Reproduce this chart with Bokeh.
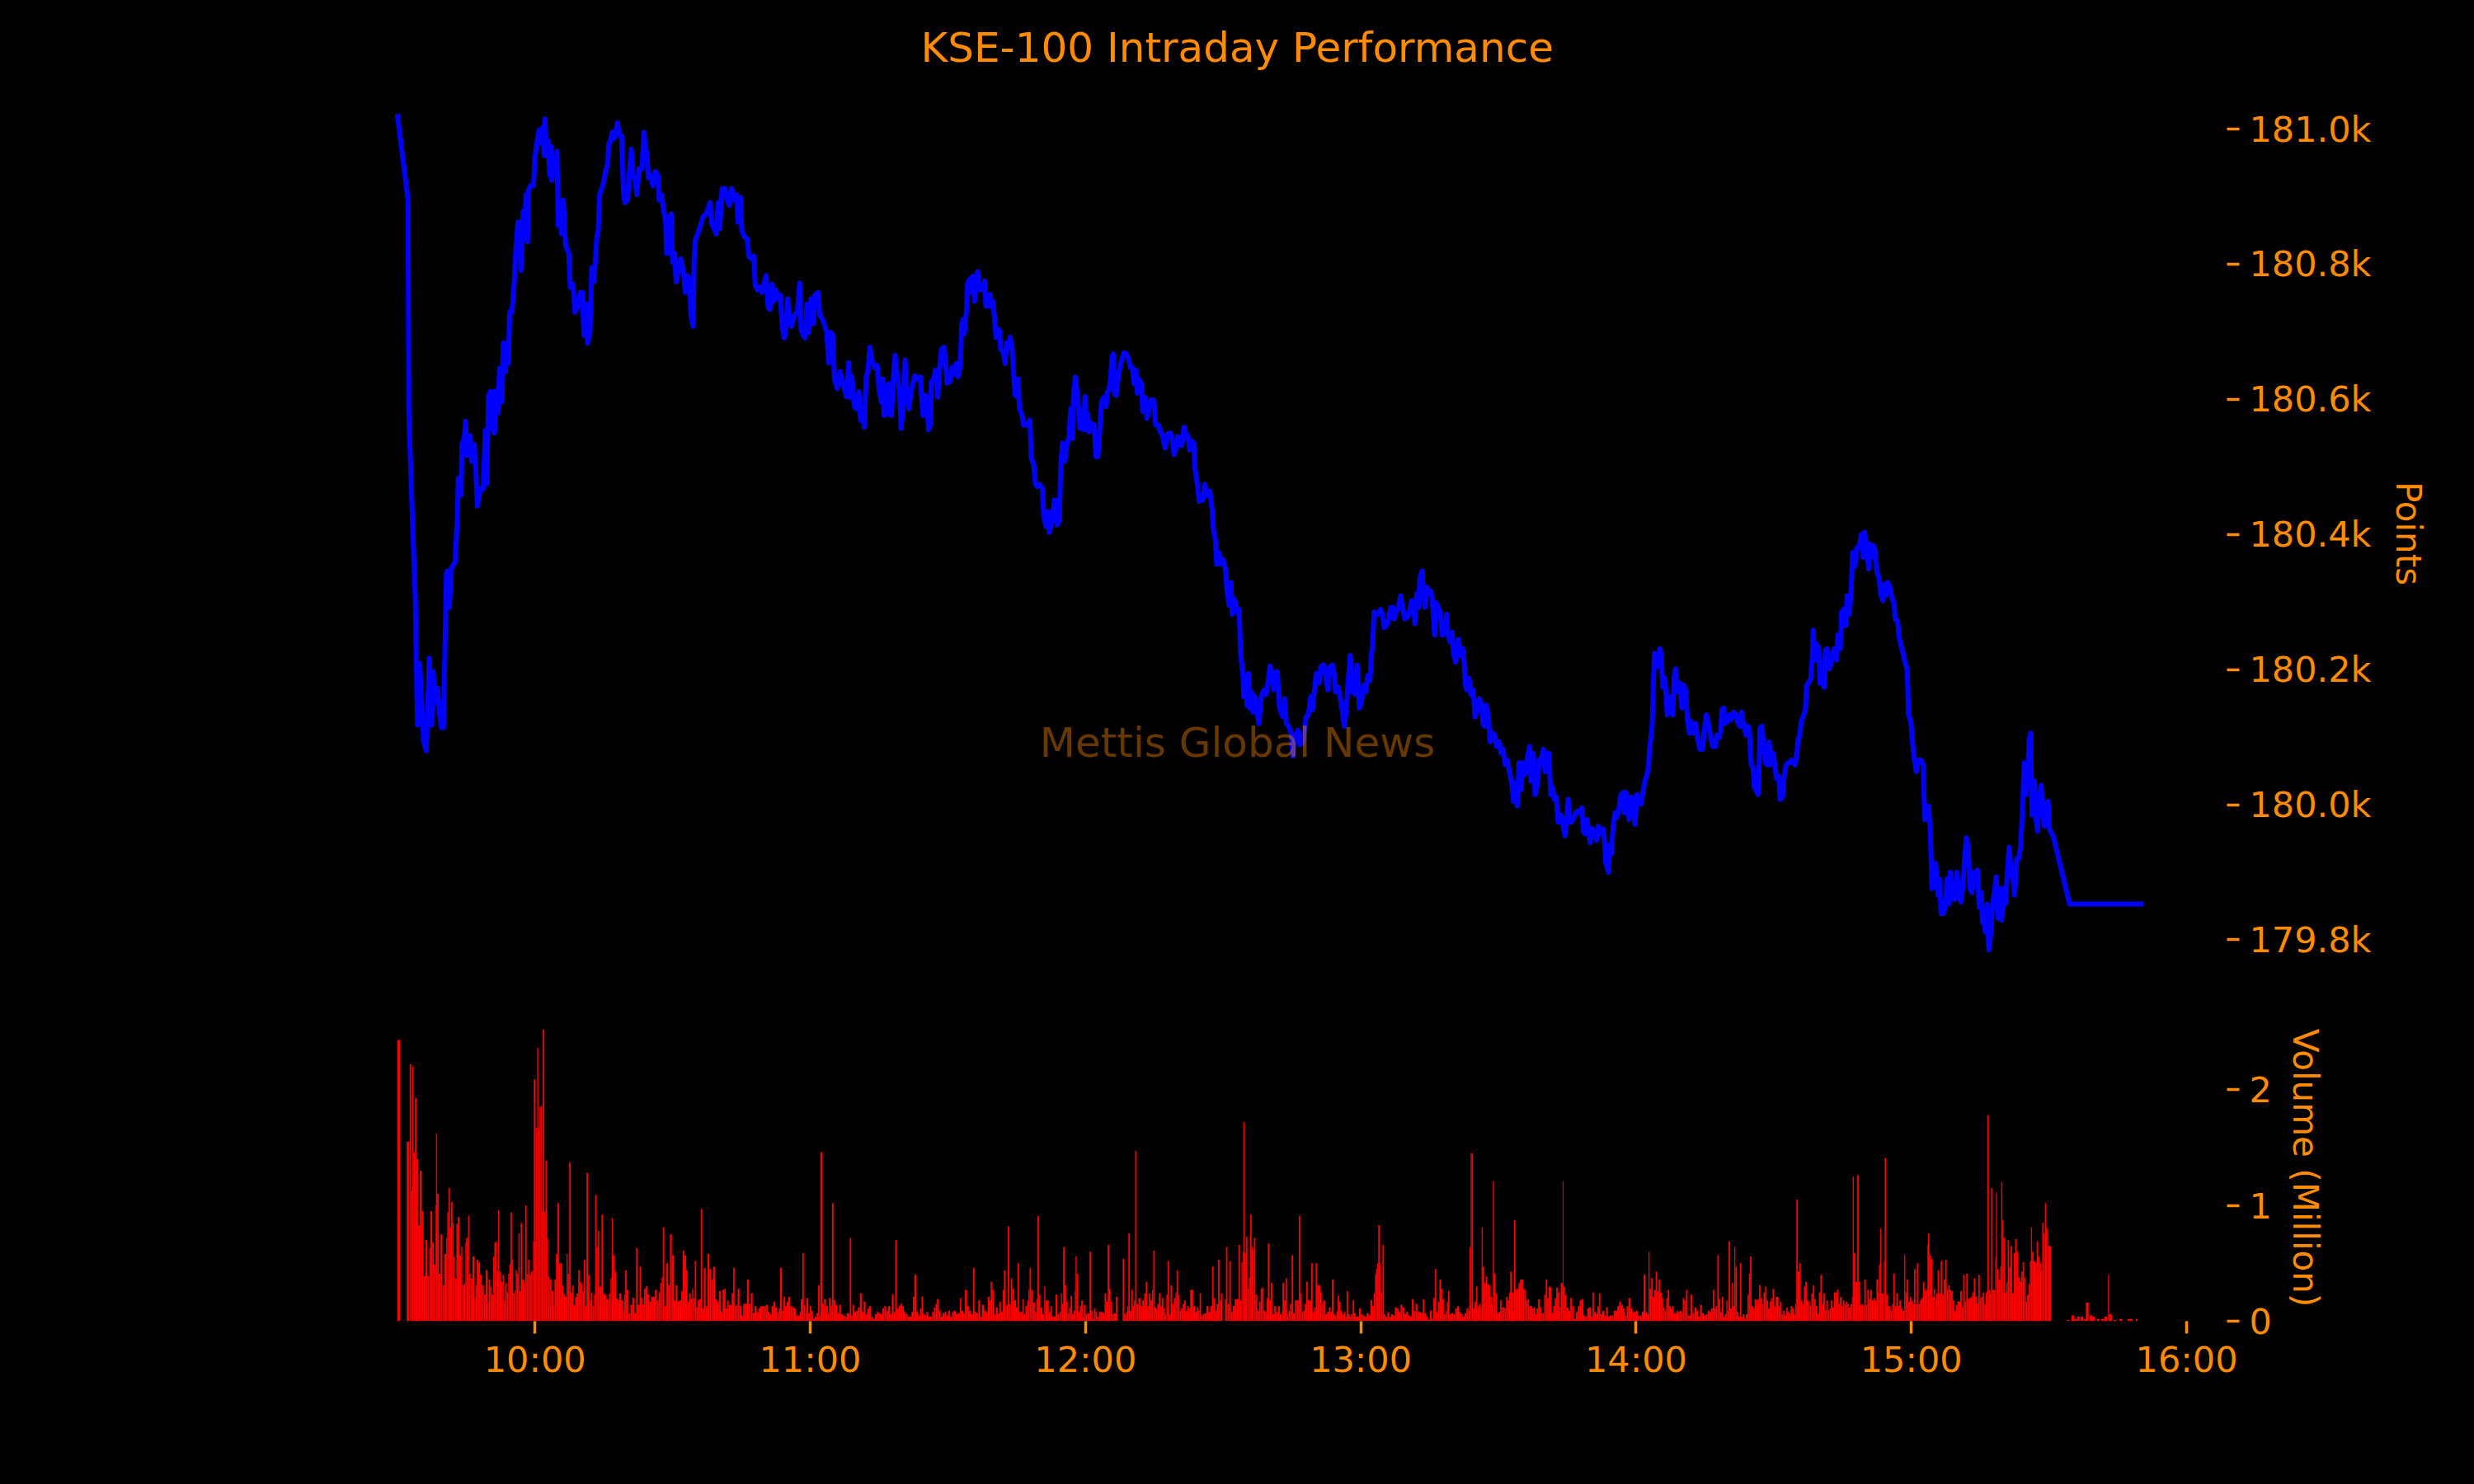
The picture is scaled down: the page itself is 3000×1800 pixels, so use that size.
import numpy as np
from bokeh.plotting import figure
from bokeh.layouts import column
from bokeh.models import Range1d, FixedTicker, Label
from bokeh.embed import file_html
from bokeh.resources import INLINE

# ---------------- data (minutes after the 09:30 open) ----------------
# KSE-100 index level, points
price_morning = [(0.0,181022),(2.35,180895),(2.5,180583),(3.2,180442),(3.95,180300),(4.08,180242),(4.4,180118),(4.9,180209),(5.24,180159),(5.75,180093),(6.33,180080),(6.97,180217),(7.49,180118),(7.81,180197),(8.26,180151),(8.77,180172),(9.22,180134),(9.6,180114),(10.06,180114),(10.38,180226),(10.7,180342),(11.0,180346),(11.35,180292),(11.8,180350),(12.6,180359),(13.1,180425),(13.3,180483),(13.9,180458),(14.1,180533),(14.6,180542),(14.9,180567),(15.2,180517),(15.8,180546),(16.2,180508),(16.8,180533),(17.1,180500),(17.45,180442),(18.1,180467),(18.7,180467),(19.2,180554),(19.5,180475),(19.9,180604),(20.3,180612),(20.7,180558),(21.2,180550),(21.4,180612),(21.9,180579),(22.3,180646),(22.8,180596),(23.1,180683),(23.6,180641),(23.9,180683),(24.2,180654),(24.5,180729),(25.0,180729),(25.5,180774),(25.8,180816),(26.3,180862),(26.6,180862),(26.96,180791),(27.4,180878),(27.7,180837),(28.05,180903),(28.4,180833),(28.5,180907),(29.0,180916),(29.7,180916),(30.0,180957),(30.4,180978),(30.95,180999),(31.5,180978),(31.8,181003),(32.0,180961),(32.2,181015),(32.55,180961),(32.9,180982),(33.2,180932),(33.5,180974),(33.7,180924),(34.0,180957),(34.5,180932),(34.8,180967),(35.1,180857),(35.4,180882),(35.8,180845),(36.2,180895),(36.5,180849),(36.7,180828),(37.4,180816),(37.7,180766),(38.3,180770),(38.7,180729),(39.3,180737),(39.9,180758),(40.3,180758),(40.7,180695),(41.1,180741),(41.5,180683),(42.0,180699),(42.4,180795),(42.8,180774),(43.2,180808),(43.5,180841),(43.8,180849),(44.1,180903),(44.8,180916),(45.4,180937),(45.9,180949),(46.05,180978),(46.5,180982),(46.8,180995),(47.3,180986),(48.0,181009),(48.4,180990),(48.9,180990),(49.3,180907),(49.6,180891),(50.2,180895),(50.55,180932),(51.0,180970),(51.4,180928),(51.8,180928),(52.2,180903),(52.7,180941),(53.3,180941),(53.8,180995),(54.1,180970),(54.4,180966),(54.7,180928),(55.2,180932),(55.7,180916),(56.3,180937),(56.8,180932),(57.1,180895),(57.6,180903),(58.1,180878),(58.5,180862),(58.7,180816),(59.1,180870),(59.4,180816),(59.7,180874),(60.0,180803),(60.4,180816),(60.8,180774),(61.2,180791),(61.8,180808),(62.3,180791),(62.8,180758),(63.2,180783),(63.7,180779),(64.0,180724),(64.5,180708),(64.7,180808),(65.0,180837),(65.7,180849),(66.3,180862),(66.6,180870),(67.3,180874),(67.7,180882),(68.2,180891),(68.5,180862),(69.0,180853),(69.5,180845),(69.95,180891),(70.3,180853),(70.8,180912),(71.4,180912),(71.9,180895),(72.4,180887),(72.9,180912),(73.4,180895),(73.9,180903),(74.3,180862),(74.8,180899),(75.1,180849),(75.6,180841),(76.3,180837),(76.6,180812),(77.2,180808),(77.7,180812),(78.0,180770),(78.5,180762),(79.0,180766),(79.5,180758),(79.9,180770),(80.4,180783),(80.8,180737),(81.2,180733),(81.7,180770),(82.0,180745),(82.5,180762),(83.0,180749),(83.5,180754),(83.9,180708),(84.3,180691),(84.6,180695),(85.1,180749),(85.4,180720),(85.9,180708),(86.5,180724),(87.2,180729),(87.7,180772),(88.0,180704),(88.5,180695),(88.9,180691),(89.3,180741),(89.7,180699),(90.2,180749),(90.7,180712),(91.0,180754),(91.7,180758),(92.1,180724),(92.6,180720),(93.2,180708),(93.6,180699),(94.05,180654),(94.4,180699),(94.9,180695),(95.3,180629),(95.9,180616),(96.5,180641),(97.1,180625),(97.9,180604),(98.4,180654)]

price_midday = [(98.65,180603),(99.1,180633),(99.6,180589),(100.2,180586),(100.6,180611),(101.0,180569),(101.4,180576),(101.8,180559),(102.2,180633),(102.6,180643),(103.0,180677),(103.5,180657),(104.0,180647),(104.6,180650),(105.0,180616),(105.5,180596),(105.8,180630),(106.1,180576),(106.6,180620),(106.9,180579),(107.2,180623),(107.7,180576),(108.1,180630),(108.5,180665),(109.0,180633),(109.5,180609),(109.8,180557),(110.2,180582),(110.7,180658),(111.1,180603),(111.5,180586),(112.0,180613),(112.8,180635),(113.2,180630),(114.0,180633),(114.3,180603),(114.6,180576),(115.1,180606),(115.5,180586),(115.8,180555),(116.2,180562),(116.4,180626),(116.9,180630),(117.3,180643),(117.8,180603),(118.1,180637),(118.6,180674),(119.2,180677),(119.6,180647),(119.8,180624),(120.4,180626),(120.9,180647),(121.3,180637),(121.8,180653),(122.2,180633),(122.7,180649),(123.0,180708),(123.3,180718),(123.6,180697),(124.1,180735),(124.3,180772),(124.8,180778),(125.2,180758),(125.4,180782),(125.8,180745),(126.2,180772),(126.5,180789),(126.9,180762),(127.5,180762),(128.0,180775),(128.3,180738),(128.8,180738),(129.2,180755),(129.5,180738),(129.8,180745),(130.2,180718),(130.5,180691),(130.9,180704),(131.3,180701),(131.5,180674),(132.1,180670),(132.5,180653),(132.8,180684),(133.3,180677),(133.6,180692),(134.0,180677),(134.4,180630),(134.7,180606),(135.3,180630),(135.6,180586),(136.2,180576),(136.5,180562),(137.3,180562),(137.9,180569),(138.2,180512),(138.7,180505),(139.1,180474),(139.5,180471),(140.0,180474),(140.6,180468),(140.9,180427),(141.4,180412),(141.7,180434),(142.1,180403),(142.75,180420),(143.2,180451),(143.5,180451),(143.8,180414),(144.3,180420),(144.6,180501),(145.0,180535),(145.5,180508),(145.9,180532),(146.4,180545),(146.8,180586),(147.2,180542),(147.4,180609),(147.8,180633),(148.2,180609),(148.5,180586),(148.8,180557),(149.3,180579),(149.6,180555),(149.9,180604),(150.2,180555),(150.5,180579),(150.8,180552),(151.3,180564),(151.9,180562),(152.3,180515),(152.7,180515),(153.1,180552),(153.5,180596),(154.0,180603),(154.5,180589),(154.7,180609),(155.2,180616),(155.5,180633),(155.8,180664),(156.1,180667),(156.3,180609),(156.7,180606),(157.2,180637),(157.5,180647),(157.9,180658),(158.4,180669),(158.9,180667),(159.4,180660),(159.8,180647),(160.2,180647),(160.6,180623),(161.0,180643),(161.3,180609),(161.6,180630),(162.2,180623),(162.5,180582),(163.0,180603),(163.4,180572),(163.7,180579),(164.2,180599),(164.6,180589),(164.9,180599),(165.3,180562),(165.9,180562),(166.3,180552),(166.7,180549),(167.1,180535),(167.4,180528),(167.9,180549),(168.5,180550),(168.9,180542),(169.3,180518),(169.8,180528),(170.1,180545),(170.6,180532),(171.0,180532),(171.5,180559),(171.9,180549),(172.4,180545),(172.7,180525),(173.2,180538),(173.6,180535),(173.9,180496),(174.4,180474),(174.8,180449),(175.2,180454),(175.6,180451),(176.0,180474),(176.5,180457),(177.1,180464),(177.6,180437),(177.9,180407),(178.3,180393),(178.6,180356),(179.1,180373),(179.6,180356),(180.0,180363),(180.5,180349),(180.8,180322),(181.3,180295),(181.7,180329),(182.0,180282),(182.3,180305),(182.7,180299),(183.1,180285),(183.5,180289),(183.8,180224),(184.3,180194),(184.5,180160),(184.9,180191),(185.2,180147),(185.5,180194),(185.8,180143),(186.2,180167),(186.5,180137),(186.9,180160),(187.5,180133),(187.8,180120),(188.1,180143),(188.4,180163),(189.0,180170),(189.4,180163),(189.9,180187),(190.2,180205),(190.6,180197),(191.0,180170),(191.4,180191),(191.8,180197),(192.3,180143)]

price_afternoon = [(193.0,180130),(193.4,180157),(193.8,180120),(194.3,180116),(194.8,180106),(195.2,180072),(195.8,180103),(196.3,180110),(196.8,180089),(197.4,180093),(198.1,180130),(198.6,180133),(199.1,180160),(199.5,180140),(199.9,180170),(200.3,180194),(200.9,180180),(201.3,180204),(201.9,180207),(202.4,180191),(202.8,180170),(203.3,180204),(203.8,180207),(204.2,180194),(204.5,180167),(205.0,180174),(205.4,180163),(205.9,180143),(206.4,180116),(206.8,180137),(207.2,180177),(207.7,180221),(208.2,180167),(208.4,180187),(208.8,180163),(209.2,180207),(209.7,180143),(210.1,180150),(210.6,180177),(211.1,180167),(211.5,180191),(212.0,180184),(212.3,180221),(212.6,180238),(212.9,180285),(213.3,180282),(213.8,180282),(214.3,180289),(214.7,180282),(215.1,180262),(215.6,180265),(216.1,180275),(216.5,180292),(217.0,180292),(217.3,180275),(217.7,180285),(218.2,180292),(218.7,180309),(219.1,180292),(219.6,180275),(220.2,180278),(220.6,180285),(221.1,180302),(221.6,180289),(221.8,180268),(222.2,180312),(222.6,180292),(222.9,180336),(223.4,180346),(223.6,180312),(224.0,180292),(224.4,180322),(224.9,180312),(225.3,180316),(225.7,180292),(226.1,180251),(226.4,180299),(226.9,180292),(227.3,180285),(227.8,180251),(228.3,180255),(228.7,180282),(229.0,180251),(229.5,180241),(229.9,180255),(230.2,180224),(230.7,180211),(231.3,180245),(231.7,180221),(232.2,180231),(232.5,180214),(232.8,180177),(233.1,180170),(233.6,180187),(234.0,180163),(234.5,180170),(234.9,180130),(235.4,180143),(235.8,180157),(236.3,180150),(236.6,180120),(237.0,180116),(237.4,180147),(237.8,180130),(238.2,180093),(238.7,180106),(239.2,180103),(239.6,180086),(240.1,180093),(240.6,180076),(241.0,180082),(241.5,180059),(241.9,180066),(242.4,180049),(242.9,180032),(243.3,180005),(243.7,180032),(244.1,179998),(244.5,180062),(244.9,180022),(245.4,180062),(245.9,180045),(246.3,180069),(246.8,180086),(247.1,180035),(247.6,180076),(248.0,180015),(248.5,180029),(248.9,180066),(249.4,180069),(249.8,180082),(250.2,180049),(250.6,180076),(251.0,180076),(251.4,180015),(251.8,180025),(252.2,180008),(252.6,180011),(253.0,179974),(253.5,179985),(253.8,179981),(254.2,179964),(254.5,179954),(254.9,179981),(255.2,180008),(255.5,179974),(255.9,179974),(256.4,179981),(256.9,179988),(257.3,179991),(257.7,179988),(258.2,179995),(258.5,179961),(258.9,179957),(259.3,179978),(259.7,179961),(260.0,179944),(260.5,179964),(260.9,179961),(261.4,179947),(261.8,179968),(262.3,179957),(262.8,179964),(263.1,179947),(263.4,179914),(263.7,179907),(264.0,179900),(264.3,179941),(264.6,179927),(265.0,179968),(265.4,179988),(265.8,179981),(266.2,179991),(266.7,180015),(267.2,180018),(267.4,179988),(267.8,180018),(268.2,179998),(268.5,179978),(269.0,180011),(269.5,179985),(269.8,179971),(270.2,180015),(270.7,180011),(271.1,180001),(271.5,180018),(271.9,180035),(272.3,180042),(272.7,180055),(272.9,180079),(273.3,180103),(273.5,180116),(273.8,180184),(274.0,180224),(274.5,180221),(274.9,180204),(275.2,180231),(275.5,180221),(275.8,180174),(276.3,180187),(276.8,180133),(277.2,180143),(277.5,180160),(278.0,180133),(278.3,180187),(278.6,180201),(279.0,180167),(279.5,180180),(280.0,180143),(280.4,180177),(280.8,180170),(281.2,180126),(281.6,180106),(282.0,180123),(282.5,180106),(283.0,180120),(283.4,180099),(283.9,180082),(284.5,180082),(284.8,180106),(285.3,180133),(285.7,180123),(286.2,180103),(286.7,180086)]

price_close = [(287.3,180086),(287.6,180103),(288.1,180099),(288.5,180110),(288.7,180140),(289.1,180143),(289.4,180120),(289.9,180123),(290.3,180133),(290.7,180126),(291.2,180137),(291.7,180133),(292.1,180123),(292.6,180116),(293.0,180137),(293.5,180116),(294.0,180103),(294.4,180116),(294.7,180110),(295.1,180059),(295.5,180055),(295.8,180025),(296.1,180022),(296.6,180015),(296.8,180049),(297.0,180113),(297.4,180116),(297.8,180089),(298.2,180062),(298.6,180059),(299.0,180093),(299.4,180059),(299.9,180076),(300.2,180062),(300.6,180039),(301.1,180042),(301.4,180008),(301.9,180011),(302.3,180042),(302.7,180059),(303.1,180062),(303.5,180062),(303.9,180066),(304.3,180062),(304.7,180059),(305.1,180079),(305.3,180096),(305.7,180103),(306.0,180123),(306.4,180130),(306.9,180140),(307.2,180177),(307.6,180180),(308.1,180187),(308.4,180218),(308.6,180258),(309.0,180214),(309.3,180238),(309.8,180231),(310.1,180180),(310.6,180180),(311.0,180174),(311.3,180228),(311.6,180231),(312.0,180201),(312.4,180207),(312.8,180224),(313.2,180231),(313.7,180214),(314.0,180251),(314.5,180231),(314.8,180285),(315.2,180289),(315.7,180265),(316.0,180309),(316.5,180282),(316.9,180319),(317.2,180373),(317.7,180353),(318.1,180380),(318.6,180380),(319.1,180400),(319.5,180366),(319.8,180403),(320.3,180376),(320.7,180349),(321.0,180386),(321.3,180366),(321.8,180383),(322.2,180373),(322.5,180343),(323.0,180336),(323.3,180312),(323.8,180302),(324.1,180326),(324.4,180309),(324.8,180329),(325.3,180322),(325.8,180305),(326.2,180299),(326.5,180275),(327.0,180272),(327.4,180245),(327.8,180235),(328.2,180224),(328.6,180211),(329.1,180201),(329.4,180133),(329.9,180123),(330.2,180096),(330.6,180069),(331.1,180049),(331.5,180066),(332.1,180066),(332.6,180059),(332.9,179978),(333.3,179978),(333.7,179998),(334.1,179967),(334.5,179876),(335.0,179880),(335.3,179913),(335.8,179866),(336.1,179890),(336.5,179839),(337.0,179839),(337.3,179846),(337.8,179890),(338.2,179853),(338.5,179900),(339.0,179860),(339.4,179860),(339.9,179900),(340.4,179866),(340.8,179856),(341.2,179876),(341.6,179920),(342.0,179951),(342.4,179937),(342.8,179876),(343.2,179870),(343.7,179900),(344.1,179900),(344.4,179903),(344.8,179849),(345.2,179870),(345.5,179826),(345.8,179839),(346.1,179812),(346.5,179853),(346.9,179785),(347.3,179809),(347.7,179853),(348.1,179870),(348.5,179893),(348.9,179832),(349.3,179876),(349.7,179829),(350.1,179876),(350.5,179853),(350.8,179886),(351.3,179937),(351.7,179907),(352.2,179890),(352.5,179866),(353.0,179920),(353.4,179920),(353.8,179937),(354.2,179988),(354.6,180062),(355.0,180015),(355.4,180055),(355.7,180096),(356.0,180106),(356.3,179985),(356.8,180035),(357.2,179978),(357.5,179961),(357.8,180008),(358.3,180029),(358.6,179991),(359.0,179968),(359.5,180001),(359.8,180005),(360.1,179964),(360.6,179957),(360.9,179954),(364.5,179853),(380.6,179853)]

# traded volume, million shares
vol_morning = [(0.0,2.43),(2.05,1.55),(2.70,2.22),(3.03,1.13),(3.28,2.20),(3.52,1.46),(3.85,1.93),(4.18,1.40),(4.51,0.83),(4.92,1.30),(5.33,0.95),(5.74,0.39),(6.15,0.70),(6.56,0.39),(6.97,0.63),(7.21,0.95),(7.62,0.68),(7.95,0.49),(8.28,1.00),(8.44,1.62),(8.69,1.10),(9.02,0.41),(9.43,0.75),(9.84,0.31),(10.25,0.58),(10.66,0.72),(10.90,0.94),(11.15,1.15),(11.47,0.81),(11.72,1.03),(12.05,0.85),(12.30,0.56),(12.54,0.37),(12.87,0.84),(13.20,0.90),(13.52,0.57),(13.93,0.64),(14.18,0.31),(14.59,0.33),(14.84,0.68),(15.00,0.72),(15.41,0.91),(15.66,0.41),(15.98,0.37),(16.39,0.56),(16.80,0.20),(17.05,0.31),(17.29,0.53),(17.62,0.51),(18.03,0.40),(18.44,0.31),(18.85,0.23),(19.26,0.44),(19.67,0.15),(19.92,0.36),(20.25,0.30),(20.57,0.23),(20.90,0.56),(21.15,0.68),(21.47,0.69),(21.72,0.44),(21.97,0.96),(22.21,0.43),(22.54,0.34),(22.95,0.40),(23.20,0.18),(23.52,0.33),(23.85,0.25),(24.18,0.41),(24.43,0.49),(24.67,0.94),(25.00,0.53),(25.25,0.24),(25.66,0.27),(25.82,0.44),(26.07,0.41),(26.39,0.76),(26.64,0.26),(26.89,0.85),(27.21,0.36),(27.54,0.33),(27.87,1.00),(28.20,0.41),(28.52,0.53),(28.85,0.40),(29.18,0.43),(29.43,0.44),(29.59,0.69),(29.75,2.09),(30.08,0.69),(30.25,1.67),(30.49,2.36),(30.74,1.65),(30.98,1.85),(31.23,1.86),(31.48,0.95),(31.72,2.52),(32.05,0.95),(32.30,1.39),(32.62,0.72),(32.87,0.39),(33.20,0.36),(33.61,0.26),(34.02,0.13),(34.26,0.36),(34.59,0.58),(34.92,1.02),(35.25,0.50),(35.57,0.50),(35.90,0.31),(36.23,0.23),(36.56,0.21),(36.89,0.58),(37.13,0.41),(37.46,1.37),(37.79,0.25),(38.11,0.31),(38.44,0.14),(38.77,0.21),(39.10,0.24),(39.43,0.44),(39.75,0.34),(40.08,0.32),(40.41,0.26),(40.66,0.53),(40.98,0.13),(41.23,1.28),(41.56,0.40),(41.89,0.18),(42.21,0.25),(42.54,0.13),(42.87,0.23),(43.11,1.09),(43.44,0.64),(43.69,0.78),(44.02,0.30),(44.51,0.92),(44.84,0.24),(45.16,0.23),(45.49,0.19),(45.90,0.18),(46.15,0.24),(46.48,0.37),(46.72,0.89),(46.97,0.57),(47.38,0.43),(47.70,0.20),(48.03,0.18),(48.36,0.24),(48.77,0.18),(49.18,0.09),(49.43,0.23),(49.67,0.44),(50.00,0.27),(50.41,0.07),(50.82,0.14),(51.23,0.20),(51.64,0.07),(52.05,0.63),(52.38,0.14),(52.79,0.47),(53.11,0.20),(53.44,0.14),(53.77,0.28),(54.10,0.30),(54.51,0.23),(54.92,0.17),(55.33,0.21),(55.74,0.21),(56.15,0.27),(56.56,0.18),(56.97,0.25),(57.30,0.33),(57.62,0.38),(57.87,0.81),(58.20,0.13),(58.61,0.50),(59.02,0.31),(59.43,0.75),(59.84,0.57),(60.25,0.18),(60.66,0.31),(61.07,0.17),(61.48,0.18),(61.89,0.26),(62.21,0.61),(62.54,0.57),(62.95,0.44),(63.28,0.17),(63.61,0.24),(63.93,0.19),(64.26,0.28),(64.51,0.20),(64.84,0.52),(65.16,0.12),(65.49,0.18),(65.82,0.19),(66.15,0.97),(66.48,0.11),(66.80,0.46),(67.21,0.13),(67.62,0.58),(68.03,0.45),(68.44,0.36),(68.85,0.47),(69.26,0.19),(69.67,0.17),(70.08,0.26),(70.49,0.08),(70.90,0.27),(71.23,0.28),(71.56,0.11),(71.89,0.18),(72.21,0.14),(72.54,0.14),(72.87,0.24),(73.20,0.46),(73.52,0.13),(73.85,0.14),(74.18,0.28),(74.59,0.13),(75.00,0.05),(75.41,0.15),(75.82,0.15),(76.23,0.36),(76.64,0.15),(77.05,0.24),(77.46,0.07),(77.87,0.13),(78.28,0.08),(78.69,0.11),(79.10,0.13),(79.51,0.13),(79.92,0.13),(80.33,0.14),(80.74,0.08),(81.15,0.06),(81.56,0.13),(81.97,0.17),(82.38,0.12),(82.79,0.08),(83.20,0.11),(83.44,0.46),(83.85,0.09),(84.18,0.21),(84.51,0.13),(84.84,0.17),(85.25,0.21),(85.66,0.13),(86.07,0.12),(86.48,0.11),(86.89,0.05),(87.30,0.05),(87.70,0.08),(87.95,0.19),(88.28,0.59),(88.61,0.14),(88.93,0.07),(89.18,0.20),(89.59,0.07),(89.92,0.13),(90.25,0.09),(90.57,0.02),(90.98,0.04),(91.39,0.07),(91.72,0.31),(92.05,0.05),(92.21,1.46),(92.62,0.15),(93.03,0.19),(93.44,0.13),(93.85,0.07),(94.10,0.20),(94.51,0.13),(94.75,1.02),(95.08,0.18),(95.49,0.14),(95.90,0.07),(96.31,0.14),(96.72,0.06),(97.13,0.05),(97.54,0.04),(97.95,0.07),(98.36,0.06),(98.61,0.72),(98.93,0.05),(99.26,0.14),(99.59,0.08),(100.00,0.09),(100.41,0.12),(100.82,0.24),(101.23,0.08),(101.64,0.17),(102.05,0.06),(102.46,0.11),(102.87,0.13),(103.28,0.04),(103.69,0.02),(104.10,0.06),(104.51,0.08),(104.92,0.07),(105.33,0.06),(105.74,0.11),(106.15,0.13),(106.56,0.09),(106.97,0.13),(107.38,0.06),(107.79,0.23),(108.20,0.08),(108.52,0.70),(108.85,0.11),(109.26,0.13),(109.67,0.15),(110.08,0.13),(110.41,0.08),(110.82,0.06),(111.23,0.04),(111.64,0.04),(112.05,0.08),(112.38,0.21),(112.70,0.40),(113.11,0.08),(113.52,0.05),(113.93,0.11),(114.26,0.21),(114.59,0.06),(115.00,0.05),(115.33,0.08),(115.74,0.04),(116.15,0.04),(116.56,0.08),(116.97,0.12),(117.30,0.15),(117.62,0.19),(118.03,0.09),(118.44,0.04),(118.85,0.07),(119.26,0.08),(119.67,0.05),(120.08,0.09),(120.49,0.04),(120.90,0.08),(121.31,0.09),(121.72,0.06),(122.13,0.07),(122.62,0.20),(122.95,0.09),(123.36,0.07),(123.69,0.27),(124.18,0.13),(124.59,0.09),(125.00,0.06),(125.49,0.46),(125.82,0.08),(126.23,0.07)]

vol_midday = [(126.63,0.18),(127.04,0.04),(127.45,0.14),(127.87,0.09),(128.28,0.08),(128.69,0.21),(129.10,0.18),(129.34,0.34),(129.67,0.27),(130.08,0.06),(130.49,0.12),(130.91,0.07),(131.23,0.17),(131.56,0.08),(131.97,0.27),(132.22,0.44),(132.55,0.13),(132.80,0.14),(133.04,0.82),(133.37,0.15),(133.62,0.02),(133.78,0.37),(134.03,0.28),(134.44,0.18),(134.85,0.12),(135.18,0.50),(135.51,0.08),(135.84,0.08),(136.25,0.19),(136.49,0.06),(136.90,0.13),(137.31,0.18),(137.56,0.27),(137.81,0.46),(138.14,0.27),(138.55,0.16),(138.96,0.08),(139.29,0.19),(139.53,0.91),(139.86,0.23),(140.19,0.12),(140.60,0.06),(141.01,0.30),(141.26,0.18),(141.67,0.18),(142.00,0.08),(142.33,0.13),(142.66,0.04),(143.07,0.04),(143.48,0.23),(143.89,0.06),(144.30,0.08),(144.63,0.24),(144.87,0.15),(145.12,0.64),(145.45,0.31),(145.78,0.17),(146.11,0.07),(146.44,0.12),(146.76,0.22),(147.09,0.06),(147.42,0.09),(147.67,0.27),(147.83,0.56),(148.08,0.41),(148.41,0.08),(148.74,0.13),(149.06,0.18),(149.39,0.04),(149.64,0.14),(150.05,0.06),(150.46,0.07),(150.87,0.60),(151.20,0.09),(151.53,0.02),(151.86,0.11),(152.19,0.08),(152.52,0.04),(152.93,0.08),(153.34,0.08),(153.75,0.07),(154.16,0.24),(154.49,0.17),(154.82,0.66),(155.15,0.28),(155.47,0.17),(155.80,0.06),(156.21,0.07),(156.62,0.21),(156.95,0.0),(157.45,0.0),(158.10,0.54),(158.43,0.06),(158.84,0.08),(159.09,0.13),(159.34,0.76),(159.66,0.09),(159.99,0.27),(160.32,0.13),(160.57,0.18),(160.82,1.47),(161.14,0.15),(161.55,0.20),(161.97,0.13),(162.38,0.18),(162.79,0.24),(163.12,0.34),(163.44,0.13),(163.77,0.24),(164.10,0.18),(164.51,0.27),(164.76,0.61),(165.09,0.12),(165.42,0.11),(165.66,0.15),(165.99,0.24),(166.32,0.13),(166.65,0.20),(166.98,0.11),(167.31,0.06),(167.63,0.23),(167.88,0.52),(168.21,0.06),(168.54,0.31),(168.87,0.15),(169.28,0.20),(169.61,0.25),(169.85,0.44),(170.18,0.23),(170.51,0.09),(170.84,0.11),(171.17,0.15),(171.50,0.18),(171.83,0.09),(172.15,0.13),(172.48,0.11),(172.81,0.27),(173.14,0.27),(173.47,0.13),(173.88,0.08),(174.21,0.12),(174.54,0.09),(174.87,0.24),(175.19,0.05),(175.52,0.06),(175.93,0.07),(176.35,0.13),(176.76,0.08),(177.17,0.13),(177.58,0.47),(177.91,0.20),(178.23,0.09),(178.56,0.15),(178.89,0.53),(179.22,0.18),(179.55,0.24),(179.88,0.0),(180.37,0.19),(180.62,0.64),(180.95,0.15),(181.36,0.52),(181.69,0.08),(182.10,0.13),(182.51,0.19),(182.92,0.19),(183.33,0.66),(183.66,0.18),(183.99,0.51),(184.23,0.60),(184.40,1.72),(184.64,0.59),(184.97,0.73),(185.30,0.28),(185.63,0.38),(185.88,0.92),(186.21,0.64),(186.45,0.62),(186.70,0.72),(187.03,0.23),(187.44,0.09),(187.85,0.17),(188.18,0.28),(188.51,0.29),(188.83,0.09),(189.16,0.08),(189.49,0.20),(189.74,0.67),(190.07,0.18),(190.40,0.33),(190.73,0.06),(191.14,0.13),(191.55,0.08),(191.96,0.13),(192.37,0.06),(192.78,0.08),(192.94,0.33),(193.27,0.18),(193.60,0.37),(193.93,0.06),(194.26,0.09),(194.59,0.15),(194.92,0.57),(195.24,0.07),(195.66,0.18),(196.07,0.18),(196.48,0.91),(196.81,0.24),(197.13,0.08),(197.46,0.09),(197.79,0.15),(198.12,0.34),(198.45,0.18),(198.78,0.18),(199.19,0.50),(199.52,0.08),(199.85,0.12),(200.17,0.50),(200.50,0.31),(200.83,0.31),(201.16,0.25),(201.49,0.15),(201.82,0.18),(202.23,0.06),(202.64,0.08),(203.05,0.12),(203.38,0.08),(203.71,0.36),(204.04,0.06),(204.36,0.05),(204.69,0.08),(204.94,0.22),(205.27,0.17),(205.60,0.09),(205.93,0.06),(206.34,0.08),(206.67,0.04),(206.91,0.26),(207.24,0.06),(207.57,0.04),(207.90,0.06),(208.23,0.18),(208.56,0.07),(208.88,0.04),(209.21,0.04),(209.62,0.11),(210.04,0.06),(210.45,0.05),(210.86,0.04),(211.27,0.07),(211.68,0.05),(212.09,0.18),(212.50,0.13),(212.83,0.24),(213.07,0.40),(213.32,0.45),(213.57,0.50),(213.81,0.83),(214.14,0.49),(214.39,0.25),(214.72,0.66),(215.05,0.06),(215.38,0.04),(215.79,0.08),(216.20,0.04),(216.61,0.06),(217.02,0.05),(217.43,0.12),(217.84,0.11),(218.25,0.08),(218.66,0.14),(219.07,0.12),(219.48,0.06),(219.89,0.08),(220.31,0.05),(220.72,0.04),(221.13,0.19),(221.54,0.09),(221.95,0.15),(222.36,0.08),(222.77,0.08),(223.18,0.07),(223.51,0.19),(223.84,0.07),(224.25,0.04),(224.66,0.01),(225.07,0.09),(225.48,0.02),(225.81,0.20),(226.14,0.45),(226.47,0.08),(226.80,0.17),(227.13,0.36),(227.46,0.28),(227.78,0.19),(228.11,0.06),(228.44,0.09),(228.77,0.17),(229.02,0.26),(229.34,0.06),(229.76,0.07),(230.17,0.06),(230.58,0.11),(230.99,0.13),(231.40,0.08),(231.81,0.06),(232.22,0.04),(232.63,0.07),(233.04,0.11),(233.45,0.09),(233.70,0.64),(233.95,1.45),(234.19,1.45),(234.44,0.11),(234.77,0.17),(235.10,0.30),(235.42,0.13),(235.75,0.15),(236.08,0.11),(236.33,0.81),(236.57,0.47),(236.90,0.33),(237.23,0.39),(237.56,0.32),(237.89,0.31),(238.22,0.21),(238.55,0.14),(238.79,1.21),(239.04,0.41),(239.37,0.24),(239.70,0.07),(240.03,0.08),(240.36,0.18),(240.68,0.12),(241.01,0.12),(241.34,0.11),(241.67,0.21),(242.00,0.18),(242.33,0.25),(242.57,0.43),(242.90,0.25),(243.23,0.09),(243.40,0.87),(243.72,0.28),(244.05,0.28),(244.38,0.33),(244.71,0.36),(245.04,0.36),(245.37,0.28),(245.69,0.27),(246.02,0.18),(246.35,0.19),(246.68,0.13),(247.01,0.13),(247.34,0.11),(247.66,0.12),(247.99,0.06),(248.32,0.11),(248.65,0.19),(248.98,0.12),(249.31,0.07),(249.64,0.07),(249.97,0.23),(250.30,0.36),(250.62,0.20),(250.95,0.30),(251.28,0.29),(251.61,0.07),(251.94,0.13),(252.27,0.20),(252.60,0.29),(252.93,0.25),(253.26,0.12),(253.59,0.33),(254.00,1.21)]

vol_afternoon = [(254.18,0.30),(254.51,0.23),(254.84,0.12),(255.25,0.09),(255.66,0.20),(256.07,0.13),(256.48,0.02),(256.89,0.08),(257.30,0.13),(257.71,0.18),(258.12,0.19),(258.53,0.05),(258.94,0.04),(259.35,0.11),(259.76,0.12),(260.17,0.04),(260.50,0.25),(260.82,0.08),(261.23,0.06),(261.56,0.13),(261.89,0.24),(262.22,0.06),(262.63,0.09),(263.04,0.05),(263.45,0.12),(263.86,0.04),(264.27,0.05),(264.68,0.05),(265.09,0.09),(265.50,0.09),(265.90,0.13),(266.31,0.17),(266.72,0.14),(267.13,0.11),(267.54,0.05),(267.95,0.13),(268.36,0.20),(268.77,0.11),(269.18,0.08),(269.59,0.08),(270.00,0.09),(270.41,0.05),(270.82,0.05),(271.23,0.08),(271.64,0.40),(272.05,0.08),(272.38,0.06),(272.71,0.60),(272.95,0.28),(273.28,0.37),(273.61,0.21),(273.94,0.27),(274.27,0.43),(274.59,0.26),(274.92,0.36),(275.25,0.25),(275.58,0.20),(275.90,0.12),(276.23,0.09),(276.56,0.20),(276.89,0.27),(277.22,0.13),(277.54,0.11),(277.87,0.13),(278.20,0.07),(278.53,0.07),(278.86,0.09),(279.18,0.08),(279.51,0.09),(279.84,0.08),(280.17,0.20),(280.50,0.18),(280.90,0.27),(281.23,0.05),(281.56,0.05),(281.89,0.23),(282.30,0.07),(282.71,0.12),(283.12,0.09),(283.53,0.04),(283.94,0.14),(284.35,0.07),(284.76,0.05),(285.17,0.06),(285.58,0.09),(285.99,0.08),(286.40,0.11),(286.72,0.27),(287.05,0.11),(287.38,0.13),(287.71,0.57),(288.04,0.19),(288.36,0.08),(288.69,0.21),(289.02,0.04),(289.35,0.06),(289.68,0.18),(289.92,0.09),(290.17,0.69),(290.50,0.11),(290.82,0.33),(291.15,0.13),(291.40,0.64),(291.64,0.47),(291.97,0.08),(292.30,0.04),(292.63,0.50),(292.95,0.04),(293.28,0.06),(293.61,0.02),(293.94,0.06),(294.27,0.23),(294.59,0.41),(294.84,0.56),(295.17,0.13),(295.50,0.11),(295.82,0.19),(296.15,0.18),(296.48,0.19),(296.81,0.31),(297.13,0.20),(297.46,0.15),(297.79,0.25),(298.12,0.30),(298.45,0.18),(298.77,0.11),(299.10,0.17),(299.43,0.20),(299.76,0.28),(300.09,0.13),(300.41,0.21),(300.74,0.21),(301.07,0.13),(301.40,0.17),(301.72,0.06),(302.05,0.09),(302.38,0.05),(302.71,0.12),(303.04,0.08),(303.36,0.07),(303.69,0.13),(304.02,0.11),(304.35,0.06),(304.68,0.15),(304.92,1.05),(305.25,0.43),(305.58,0.50),(305.90,0.18),(306.23,0.15),(306.56,0.30),(306.89,0.34),(307.22,0.18),(307.54,0.17),(307.87,0.13),(308.20,0.24),(308.53,0.31),(308.86,0.19),(309.18,0.13),(309.51,0.06),(309.84,0.25),(310.17,0.40),(310.50,0.15),(310.82,0.24),(311.15,0.09),(311.48,0.18),(311.81,0.09),(312.14,0.11),(312.46,0.18),(312.79,0.12),(313.12,0.25),(313.45,0.25),(313.77,0.27),(314.10,0.15),(314.43,0.21),(314.76,0.13),(315.09,0.18),(315.41,0.15),(315.74,0.17),(316.07,0.15),(316.40,0.12),(316.73,0.15),(317.05,0.21),(317.22,1.25),(317.46,0.59),(317.79,0.34),(318.20,1.26),(318.53,0.34),(318.86,0.14),(319.18,0.15),(319.51,0.13),(319.76,0.36),(320.09,0.14),(320.41,0.27),(320.74,0.19),(321.07,0.27),(321.40,0.18),(321.73,0.20),(322.05,0.18),(322.38,0.36),(322.71,0.25),(322.95,0.49),(323.20,0.80),(323.45,0.24),(323.77,0.24),(324.02,0.52),(324.18,1.41),(324.51,0.23),(324.84,0.13),(325.17,0.13),(325.49,0.09),(325.82,0.15),(326.07,0.41),(326.40,0.13),(326.72,0.24),(327.05,0.13),(327.38,0.18),(327.71,0.11),(328.04,0.09),(328.45,0.57),(328.69,0.25),(329.02,0.36),(329.35,0.17),(329.68,0.21),(330.00,0.18),(330.33,0.15),(330.58,0.45),(330.90,0.15),(331.23,0.50),(331.56,0.15),(331.89,0.18),(332.22,0.20),(332.54,0.34),(332.87,0.27),(333.20,0.27),(333.45,0.66),(333.61,0.76),(333.94,0.57),(334.27,0.54),(334.59,0.21),(334.92,0.28),(335.17,0.18),(335.41,0.24),(335.74,0.44),(336.07,0.24),(336.40,0.52),(336.72,0.23),(337.05,0.36),(337.38,0.53),(337.71,0.27),(338.04,0.31),(338.36,0.27),(338.69,0.26),(339.02,0.18),(339.35,0.09),(339.68,0.14),(340.00,0.17),(340.33,0.17),(340.66,0.26),(340.99,0.12),(341.31,0.40),(341.64,0.17),(341.97,0.41),(342.30,0.19),(342.63,0.20),(342.95,0.21),(343.28,0.25),(343.61,0.37),(343.94,0.21),(344.27,0.15),(344.59,0.40),(344.92,0.20),(345.25,0.21),(345.58,0.25),(345.90,0.15),(346.23,0.25),(346.56,1.78),(346.89,0.27),(347.13,0.24),(347.38,1.15),(347.71,0.27),(348.03,0.27),(348.28,0.56),(348.45,1.11),(348.69,0.45),(349.02,0.36),(349.35,0.47),(349.59,1.20),(349.84,0.87),(350.09,0.72),(350.41,0.25),(350.74,0.34),(350.99,0.70),(351.31,0.47),(351.64,0.65),(351.97,0.24),(352.30,0.59),(352.63,0.71),(352.95,0.60),(353.28,0.38),(353.61,0.34),(353.94,0.43),(354.27,0.51),(354.59,0.38),(354.92,0.17),(355.25,0.23),(355.58,0.32),(355.82,0.52),(356.07,0.81),(356.31,0.60),(356.64,0.52),(356.97,0.51),(357.30,0.69),(357.62,0.56),(357.95,0.50),(358.28,0.44),(358.53,0.85),(358.85,0.76),(359.10,1.02),(359.35,0.81),(359.59,0.79),(359.84,0.65),(363.85,0.01),(364.92,0.05),(365.49,0.02),(366.15,0.04),(366.89,0.04),(367.54,0.02),(368.04,0.16),(368.86,0.05),(369.43,0.04),(370.41,0.02),(371.40,0.02),(372.05,0.04),(372.87,0.40),(373.11,0.06),(374.10,0.01),(375.33,0.02),(377.13,0.02),(377.62,0.02),(378.93,0.02)]

time_ticks = [30, 90, 150, 210, 270, 330, 390]
time_labels = ["10:00", "11:00", "12:00", "13:00", "14:00", "15:00", "16:00"]
price_ticks = [179800, 180000, 180200, 180400, 180600, 180800, 181000]
price_labels = ["179.8k", "180.0k", "180.2k", "180.4k", "180.6k", "180.8k", "181.0k"]
vol_ticks = [0, 1, 2]
vol_labels = ["0", "1", "2"]

TITLE = "KSE-100 Intraday Performance"
WATERMARK = "Mettis Global News"

# ---------------- styling ----------------
ORANGE = "#FF8C00"
FONT = "DejaVu Sans"
W = 2996
LEFT, RIGHT = 375, 296
BG = {"background-color": "#000000"}
COMMON = dict(output_backend="svg", toolbar_location=None, background_fill_color="black",
              border_fill_color="black", outline_line_color=None, styles=BG)

price = np.array(price_morning + price_midday + price_afternoon + price_close, dtype=float)
vol = np.array(vol_morning + vol_midday + vol_afternoon, dtype=float)
vt, vm = vol[:, 0], vol[:, 1]
bar_w = np.minimum(np.diff(vt, append=vt[-1] + 0.4), 0.6)

x_range = Range1d(-19.1, 398.8)


def style_y(ax, ticks, labels, label, label_standoff):
    ax.ticker = FixedTicker(ticks=ticks)
    ax.major_label_overrides = {t: s for t, s in zip(ticks, labels)}
    ax.axis_line_color = None
    ax.major_tick_line_color = ORANGE
    ax.major_tick_line_width = 3.5
    ax.major_tick_out = 15
    ax.major_tick_in = 0
    ax.minor_tick_line_color = None
    ax.major_label_text_color = ORANGE
    ax.major_label_text_font = FONT
    ax.major_label_text_font_size = "43px"
    ax.major_label_standoff = 12
    ax.axis_label = label
    ax.axis_label_text_color = ORANGE
    ax.axis_label_text_font = FONT
    ax.axis_label_text_font_size = "42px"
    ax.axis_label_text_font_style = "normal"
    ax.axis_label_standoff = label_standoff


# price panel (with the title above it)
p1 = figure(width=W, height=1205, x_range=x_range, y_range=Range1d(179720, 181083),
            y_axis_location="right", x_axis_location=None, title=TITLE,
            min_border_left=LEFT, min_border_right=RIGHT, min_border_top=88, min_border_bottom=0,
            **COMMON)
p1.grid.visible = False
p1.title.text_color = ORANGE
p1.title.text_font = FONT
p1.title.text_font_size = "50px"
p1.title.text_font_style = "normal"
p1.title.align = "left"
p1.title.offset = 741
p1.title.standoff = 4
p1.line(price[:, 0], price[:, 1], line_color="#0000FF", line_width=6, line_join="round")
style_y(p1.yaxis[0], price_ticks, price_labels, "Points", 17)
p1.add_layout(Label(x=1125, y=305, x_units="screen", y_units="screen", text=WATERMARK,
                    text_align="center", text_baseline="middle", text_font=FONT,
                    text_font_size="50px", text_color=ORANGE, text_alpha=0.4))

# volume panel
p2 = figure(width=W, height=591, x_range=x_range, y_range=Range1d(0, 2.65),
            y_axis_location="right",
            min_border_left=LEFT, min_border_right=RIGHT, min_border_top=25, min_border_bottom=194,
            **COMMON)
p2.grid.visible = False
p2.quad(left=vt, right=vt + bar_w, bottom=0, top=vm, fill_color="#FF0000", line_color=None)
style_y(p2.yaxis[0], vol_ticks, vol_labels, "Volume (Million)", 13)

xa = p2.xaxis[0]
xa.ticker = FixedTicker(ticks=time_ticks)
xa.major_label_overrides = {t: s for t, s in zip(time_ticks, time_labels)}
xa.axis_line_color = None
xa.major_tick_line_color = ORANGE
xa.major_tick_line_width = 3.5
xa.major_tick_out = 15
xa.major_tick_in = 0
xa.minor_tick_line_color = None
xa.major_label_text_color = ORANGE
xa.major_label_text_font = FONT
xa.major_label_text_font_size = "43px"
xa.major_label_standoff = 6

layout = column(p1, p2, spacing=0, styles=BG)
html = file_html(layout, INLINE)
html = html.replace("</head>", "<style>html, body { background: #000000; margin: 0; }</style></head>", 1)
open("out.html", "w").write(html)
